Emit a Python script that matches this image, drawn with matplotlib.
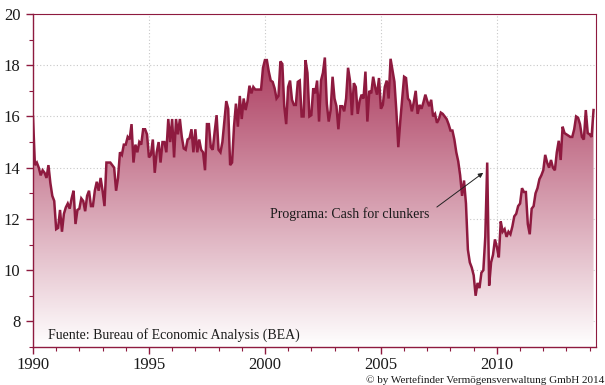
import numpy as np
import matplotlib.pyplot as plt
from matplotlib.patches import Polygon
from matplotlib.colors import LinearSegmentedColormap
from matplotlib.ticker import MultipleLocator

plt.rcParams['font.family'] = ['Liberation Serif', 'DejaVu Serif']

# ventas mensuales de vehiculos ligeros EEUU (millones, SAAR), desde enero 1990
first_year = 1990
sales = [
    16.0, 14.1, 14.2, 14.0, 13.7, 13.9, 13.8, 13.6, 14.1, 13.4, 12.9, 12.7,   # 1990
    11.6, 11.65, 12.35, 11.5, 12.2, 12.45, 12.6, 12.4, 12.8, 13.1, 11.8, 12.35,  # 1991
    12.4, 12.8, 12.7, 12.3, 12.9, 13.1, 12.5, 12.5, 13.1, 13.45, 13.1, 13.6,  # 1992
    13.1, 12.5, 14.2, 14.2, 14.2, 14.1, 14.0, 13.1, 13.6, 14.6, 14.5, 14.9,   # 1993
    14.9, 15.2, 15.1, 15.7, 14.2, 14.9, 14.6, 15.0, 14.9, 15.5, 15.5, 15.3,   # 1994
    14.4, 14.5, 15.1, 13.8, 14.6, 15.0, 14.2, 15.0, 15.0, 14.6, 15.9, 15.0,   # 1995
    15.9, 14.4, 15.9, 15.3, 15.9, 15.2, 14.75, 14.7, 15.1, 15.15, 15.5, 14.6,  # 1996
    15.5, 14.6, 15.1, 14.7, 14.6, 13.9, 15.7, 15.7, 14.8, 14.7, 15.4, 16.05,  # 1997
    14.7, 14.6, 15.0, 15.8, 16.6, 16.3, 14.1, 14.2, 15.6, 16.5, 15.6, 16.8,   # 1998
    15.9, 16.7, 16.25, 16.6, 17.2, 16.9, 17.15, 17.05, 17.05, 17.05, 17.05, 17.9,  # 1999
    18.2, 18.2, 17.75, 17.4, 17.35, 17.1, 16.7, 16.8, 18.15, 18.05, 16.4, 15.7,  # 2000
    17.15, 17.4, 16.65, 16.45, 16.45, 17.35, 17.4, 16.0, 16.0, 18.2, 17.7, 16.0,  # 2001
    16.05, 17.1, 16.9, 17.4, 15.8, 17.4, 17.7, 18.3, 16.5, 15.8, 16.25, 17.55,  # 2002
    16.7, 16.4, 15.5, 16.4, 16.4, 16.2, 16.7, 17.9, 17.4, 16.05, 17.3, 17.15,  # 2003
    16.1, 16.6, 16.85, 16.7, 17.75, 15.8, 17.0, 16.9, 17.55, 17.15, 16.85, 17.5,  # 2004
    16.3, 16.45, 17.15, 17.4, 16.7, 18.25, 17.8, 17.35, 16.2, 14.8, 15.8, 16.7,  # 2005
    17.55, 17.5, 16.7, 16.6, 16.2, 16.55, 17.0, 16.1, 16.45, 16.3, 16.55, 16.85,  # 2006
    16.6, 16.4, 16.65, 16.0, 16.1, 15.75, 15.9, 16.15, 16.1, 16.0, 15.9, 15.7,  # 2007
    15.45, 15.45, 15.1, 14.6, 14.25, 13.7, 12.9, 13.5, 12.6, 10.8, 10.3, 10.1,  # 2008
    9.8, 9.0, 9.5, 9.3, 9.9, 10.0, 11.3, 14.2, 9.4, 10.3, 10.6, 11.2,   # 2009
    10.9, 10.5, 11.9, 11.5, 11.6, 11.3, 11.5, 11.4, 11.7, 12.1, 12.2, 12.5,   # 2010
    12.6, 13.2, 13.05, 13.05, 11.8, 11.4, 12.4, 12.5, 13.0, 13.2, 13.55, 13.7,  # 2011
    13.9, 14.5, 14.2, 14.0, 14.3, 14.0, 13.9, 14.6, 15.05, 14.3, 15.6, 15.35,  # 2012
    15.3, 15.25, 15.2, 15.2, 15.5, 16.0, 15.95, 15.7, 15.2, 15.1, 16.25, 15.35,  # 2013
    15.3, 15.2, 16.25,   # 2014
]

x = first_year + np.arange(len(sales)) / 12.0
y = np.array(sales)

line_col = '#8e1a3f'
ymin, ymax = 7, 20
xmin, xmax = 1990, 2014.27

fig = plt.figure(figsize=(6.05, 3.85), dpi=100)
ax = fig.add_axes([0.0545, 0.0987, 0.9305, 0.865])

# relleno con degradado, recortado bajo la curva
cmap = LinearSegmentedColormap.from_list('rosa', ['#ffffff', '#ab3a5d'])
grad = np.linspace(0, 1, 256).reshape(-1, 1)
im = ax.imshow(grad, extent=[xmin, xmax, ymin, 18.4], origin='lower',
               aspect='auto', cmap=cmap, zorder=1)
verts = [(x[0], ymin)] + list(zip(x, y)) + [(x[-1], ymin)]
poly = Polygon(verts, closed=True, facecolor='none', edgecolor='none')
ax.add_patch(poly)
im.set_clip_path(poly)

ax.plot(x, y, color=line_col, lw=1.8, zorder=3, solid_joinstyle='miter')

ax.set_xlim(xmin, xmax)
ax.set_ylim(ymin, ymax)

ax.xaxis.set_major_locator(MultipleLocator(5))
ax.xaxis.set_minor_locator(MultipleLocator(1))
ax.set_yticks(np.arange(8, 21, 2))
ax.yaxis.set_minor_locator(MultipleLocator(1))
ax.tick_params(which='major', direction='out', length=5, width=1, color=line_col,
               labelsize=12, labelcolor='#1a1a1a')
ax.tick_params(which='minor', direction='out', length=3, width=0.8, color=line_col)
ax.tick_params(axis='y', pad=4)
ax.tick_params(axis='x', pad=2)

for s in ax.spines.values():
    s.set_color(line_col)
    s.set_linewidth(1.0)
ax.spines['top'].set_linewidth(0.8)
ax.spines['right'].set_linewidth(0.8)

ax.grid(True, which='major', color='#c8c8c8', linestyle=(0, (1, 2)), lw=0.8, zorder=0)
ax.set_axisbelow(True)

ax.text(1990.65, 7.45, 'Fuente: Bureau of Economic Analysis (BEA)', fontsize=10,
        ha='left', va='center', color='#1a1a1a', zorder=5)

ax.annotate('Programa: Cash for clunkers', xy=(2009.41, 13.8), xytext=(2007.1, 12.2),
            fontsize=10, ha='right', va='center', color='#1a1a1a', zorder=5,
            arrowprops=dict(arrowstyle='-|>', color='#222222', lw=0.7,
                            mutation_scale=7, shrinkA=4, shrinkB=0,
                            relpos=(1.0, 0.6)))

fig.text(0.998, 0.0, '© by Wertefinder Vermögensverwaltung GmbH 2014', fontsize=8,
         ha='right', va='bottom', color='#1a1a1a')

fig.savefig('out.png', dpi=100)
